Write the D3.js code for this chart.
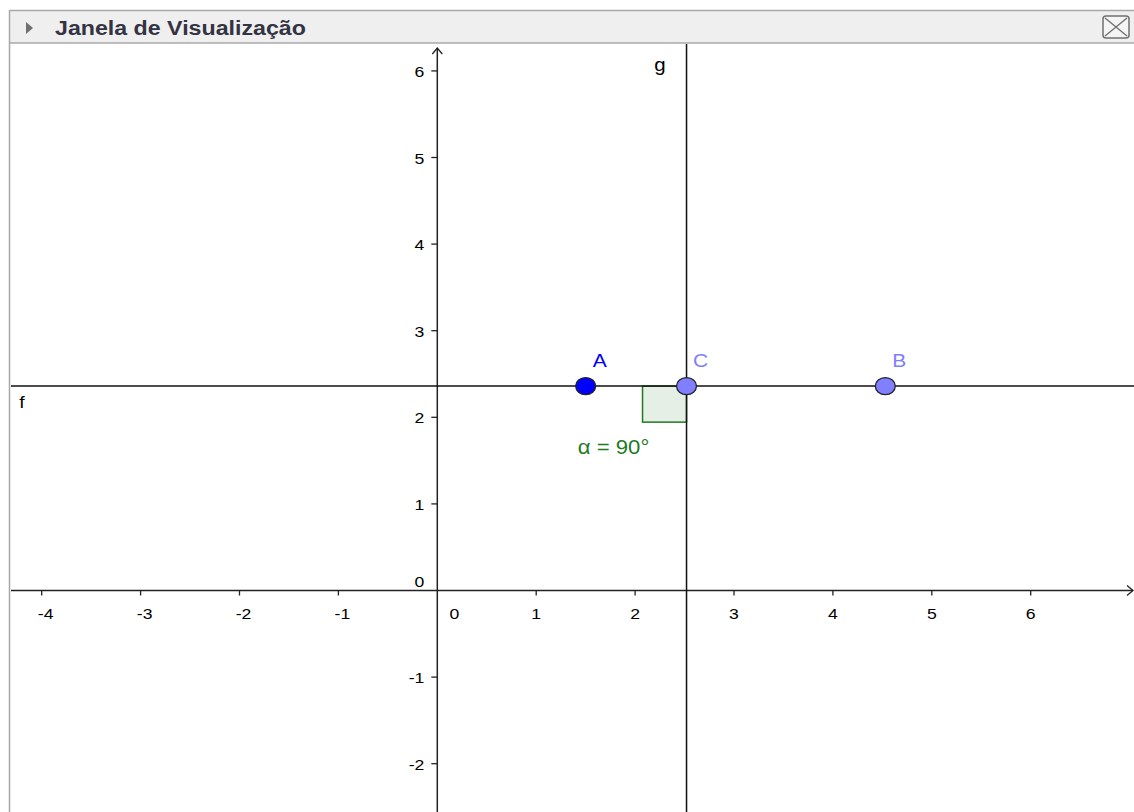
<!DOCTYPE html>
<html>
<head>
<meta charset="utf-8">
<script src="https://cdn.jsdelivr.net/npm/d3@7"></script>
<style>
  html, body { margin: 0; padding: 0; background: #ffffff; }
  svg { display: block; }
  text { font-family: "Liberation Sans", Arial, sans-serif; }
</style>
</head>
<body>
<svg id="chart" width="1134" height="812"></svg>
<script>
// ---- data ----
const title = "Janela de Visualização";
const xTicks = [-4, -3, -2, -1, 1, 2, 3, 4, 5, 6];
const yTicks = [-2, -1, 1, 2, 3, 4, 5, 6];
const pointNames = ["A", "C", "B"];
const pointX = [1.50, 2.52, 4.53];
const pointY = [2.36, 2.36, 2.36];
const pointFill = ["#0000ff", "#7f7fff", "#7f7fff"];
const lineF_y = 2.36;   // f: horizontal line through A, B
const lineG_x = 2.52;   // g: perpendicular through C
const angleLabel = "α = 90°";

(function () {
const W = 1134, H = 812;
const svg = d3.select("#chart");
const leftX = 10, topY = 43;
const sx = 1.137; // horizontal stretch of glyphs in the reference

// scales: x unit ~98.9px, y unit ~86.6px
const x = d3.scaleLinear().domain([0, 6]).range([437.3, 437.3 + 6 * 98.9]);
const y = d3.scaleLinear().domain([0, 6]).range([590.5, 590.5 - 6 * 86.6]);

function txt(g, s, px, py, opts) {
  const o = Object.assign({anchor: "middle", size: 15, fill: "#000", weight: "normal", sx: sx}, opts || {});
  return g.append("text")
    .attr("transform", `translate(${px},${py}) scale(${o.sx},1)`)
    .attr("text-anchor", o.anchor)
    .attr("dominant-baseline", "central")
    .attr("font-size", o.size)
    .attr("font-weight", o.weight)
    .attr("fill", o.fill)
    .text(s);
}

// ---- header ----
svg.append("rect").attr("x", leftX).attr("y", 10).attr("width", W - leftX).attr("height", 33).attr("fill", "#efefef");
svg.append("line").attr("x1", leftX).attr("x2", W).attr("y1", 10.5).attr("y2", 10.5).attr("stroke", "#a8a8a8").attr("stroke-width", 1.5);
svg.append("line").attr("x1", leftX).attr("x2", W).attr("y1", 43).attr("y2", 43).attr("stroke", "#a8a8a8").attr("stroke-width", 1.5);
svg.append("line").attr("x1", 9.5).attr("x2", 9.5).attr("y1", 10).attr("y2", H).attr("stroke", "#a8a8a8").attr("stroke-width", 1.5);
svg.append("path").attr("d", "M26,22 L33,28 L26,34 Z").attr("fill", "#707070");
txt(svg, title, 55, 28, {anchor: "start", size: 20, weight: "bold", fill: "#333344", sx: 1.16});
// close button
svg.append("rect").attr("x", 1103).attr("y", 16).attr("width", 26).attr("height", 22).attr("rx", 3)
  .attr("fill", "#f4f4f4").attr("stroke", "#707070").attr("stroke-width", 1.5);
svg.append("path").attr("d", "M1105,18 L1127,36 M1127,18 L1105,36").attr("stroke", "#707070").attr("stroke-width", 1.3);

// ---- plot area ----
const plot = svg.append("g");
plot.append("defs").append("clipPath").attr("id", "clip")
  .append("rect").attr("x", leftX + 1).attr("y", topY + 1).attr("width", W - leftX - 1).attr("height", H - topY - 1);
const g = plot.append("g").attr("clip-path", "url(#clip)");

// x axis
const xAxisY = y(0);
g.append("line").attr("x1", leftX).attr("x2", W - 1).attr("y1", xAxisY).attr("y2", xAxisY)
  .attr("stroke", "#222").attr("stroke-width", 1.5);
g.append("path").attr("d", `M${W - 7},${xAxisY - 5} L${W - 1},${xAxisY} L${W - 7},${xAxisY + 5}`)
  .attr("fill", "none").attr("stroke", "#222").attr("stroke-width", 1.3);
// y axis
const yAxisX = x(0);
g.append("line").attr("x1", yAxisX).attr("x2", yAxisX).attr("y1", 48).attr("y2", H)
  .attr("stroke", "#222").attr("stroke-width", 1.5);
g.append("path").attr("d", `M${yAxisX - 5},${54} L${yAxisX},${48} L${yAxisX + 5},${54}`)
  .attr("fill", "none").attr("stroke", "#222").attr("stroke-width", 1.3);

// x ticks & labels
xTicks.forEach(v => {
  const px = x(v);
  g.append("line").attr("x1", px).attr("x2", px).attr("y1", xAxisY).attr("y2", xAxisY + 5)
    .attr("stroke", "#222").attr("stroke-width", 1.3);
  txt(g, String(v), px + (v < 0 ? 4 : 0), 614, {size: 15.5});
});
txt(g, "0", x(0) + 17, 614, {size: 15.5});
// y ticks & labels
yTicks.forEach(v => {
  const py = y(v);
  g.append("line").attr("x1", yAxisX - 6).attr("x2", yAxisX).attr("y1", py).attr("y2", py)
    .attr("stroke", "#222").attr("stroke-width", 1.3);
  txt(g, String(v), yAxisX - 13, py + 1, {anchor: "end", size: 15.5});
});
txt(g, "0", yAxisX - 13, 582, {anchor: "end", size: 15.5});

// angle marker at C (right angle square, left-down)
const sqW = 44, sqH = 36;
g.append("rect")
  .attr("x", x(lineG_x) - sqW).attr("y", y(lineF_y)).attr("width", sqW).attr("height", sqH)
  .attr("fill", "rgba(0,100,0,0.1)").attr("stroke", "#1f7a1f").attr("stroke-width", 1.5);
txt(g, angleLabel, x(lineG_x) - 73, 447, {size: 19.5, fill: "#1f7a1f"});

// line f
g.append("line").attr("x1", leftX).attr("x2", W).attr("y1", y(lineF_y)).attr("y2", y(lineF_y))
  .attr("stroke", "#111").attr("stroke-width", 1.5);
txt(g, "f", 22, 402, {size: 17});
// line g
g.append("line").attr("x1", x(lineG_x)).attr("x2", x(lineG_x)).attr("y1", topY).attr("y2", H)
  .attr("stroke", "#111").attr("stroke-width", 1.5);
txt(g, "g", 660, 65, {size: 18});

// points
pointNames.forEach((n, i) => {
  g.append("ellipse").attr("cx", x(pointX[i])).attr("cy", y(pointY[i]))
    .attr("rx", 10).attr("ry", 8.5)
    .attr("fill", pointFill[i]).attr("stroke", "#222").attr("stroke-width", 1.3);
  txt(g, n, x(pointX[i]) + 14, y(pointY[i]) - 26, {size: 18.5, fill: pointFill[i]});
});
})();
</script>
</body>
</html>
